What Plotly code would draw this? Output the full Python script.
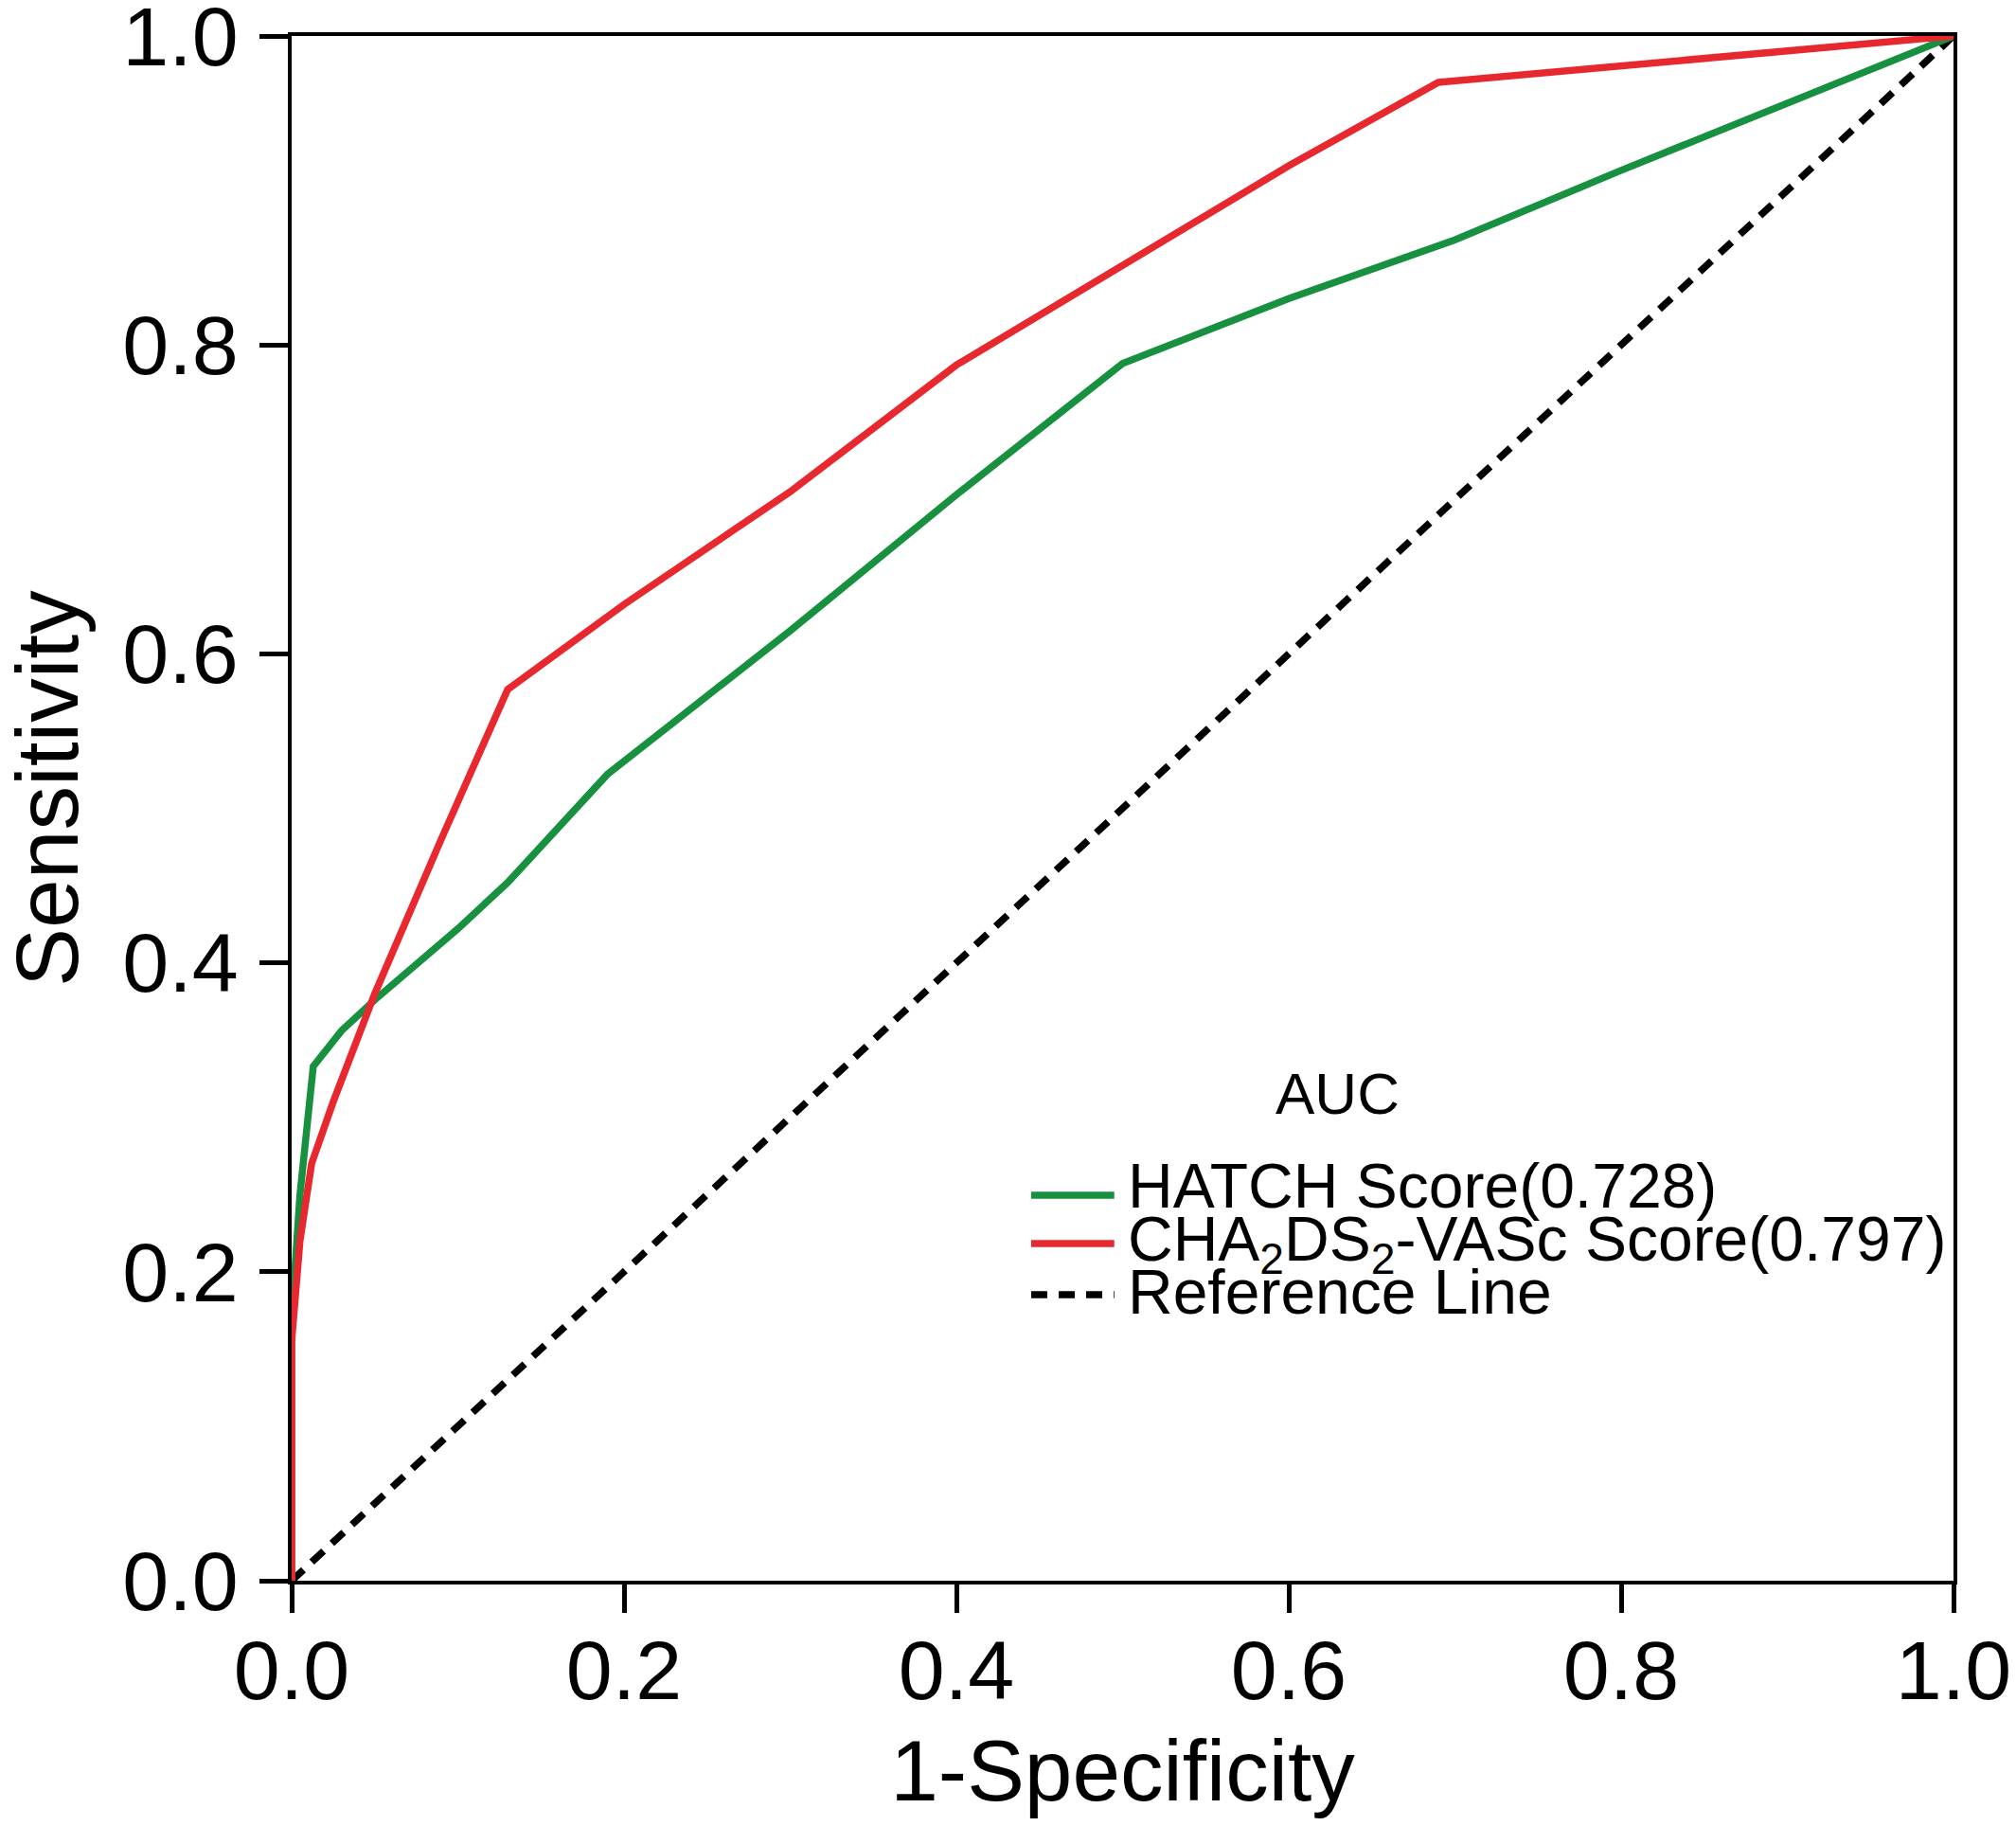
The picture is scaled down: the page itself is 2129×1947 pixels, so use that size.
import plotly.graph_objects as go

# ROC points
hatch_fpr = [0.0, 0.0, 0.005, 0.013, 0.03, 0.05, 0.1, 0.13, 0.19, 0.3, 0.4, 0.5, 0.6, 0.7, 0.8, 1.0]
hatch_tpr = [0.0, 0.17, 0.25, 0.333, 0.356, 0.376, 0.422, 0.452, 0.522, 0.615, 0.703, 0.788, 0.83, 0.868, 0.913, 1.0]

cha_fpr = [0.0, 0.0, 0.005, 0.012, 0.025, 0.05, 0.09, 0.13, 0.2, 0.3, 0.4, 0.5, 0.6, 0.69, 1.0]
cha_tpr = [0.0, 0.155, 0.22, 0.27, 0.31, 0.38, 0.48, 0.577, 0.632, 0.705, 0.787, 0.852, 0.916, 0.97, 1.0]

ref_x = [0.0, 1.0]
ref_y = [0.0, 1.0]

tick_vals = [0.0, 0.2, 0.4, 0.6, 0.8, 1.0]
tick_text = ["0.0", "0.2", "0.4", "0.6", "0.8", "1.0"]

legend_labels = ["HATCH Score(0.728)",
                 "CHA<sub>2</sub>DS<sub>2</sub>-VASc Score(0.797)",
                 "Reference Line"]

GREEN = "#17903f"
RED = "#e8282f"
FONT = "Liberation Sans, Arial, sans-serif"
DASH = "17px,12px"
LW = 7.5

fig = go.Figure()
fig.add_trace(go.Scatter(x=ref_x, y=ref_y, mode="lines", showlegend=False,
                         line=dict(color="black", width=LW, dash=DASH)))
fig.add_trace(go.Scatter(x=hatch_fpr, y=hatch_tpr, mode="lines", showlegend=False,
                         line=dict(color=GREEN, width=LW)))
fig.add_trace(go.Scatter(x=cha_fpr, y=cha_tpr, mode="lines", showlegend=False,
                         line=dict(color=RED, width=LW)))

axis_common = dict(
    range=[0, 1], tickvals=tick_vals, ticktext=tick_text,
    showgrid=False, zeroline=False, automargin=False,
    showline=True, linecolor="black", linewidth=3.5, mirror=True,
    ticks="outside", tickwidth=5, tickcolor="black",
    ticklabeloverflow="allow",
    tickfont=dict(family=FONT, size=88, color="black"),
)
# x: short major ticks bring the labels closer, minor ticks give the full length
fig.update_xaxes(**axis_common, ticklen=16, ticklabelstandoff=0,
                 minor=dict(tickvals=tick_vals, ticks="outside", ticklen=30,
                            tickwidth=5, tickcolor="black", showgrid=False),
                 title=dict(text="1-Specificity", standoff=26,
                            font=dict(family=FONT, size=91, color="black")))
fig.update_yaxes(**axis_common, ticklen=30, ticklabelstandoff=5)

# y title as an annotation so it can sit closer to the page edge
fig.add_annotation(text="Sensitivity", xref="paper", yref="paper",
                   x=-0.147, y=0.5126, xanchor="center", yanchor="middle",
                   textangle=-90, showarrow=False,
                   font=dict(family=FONT, size=93, color="black"))

# hand-made legend (long line samples, "AUC" heading)
sample_y = [0.2495, 0.2183, 0.1852]
text_y = [0.2557, 0.2180, 0.1870]
styles = [dict(color=GREEN, width=LW), dict(color=RED, width=LW),
          dict(color="black", width=LW, dash=DASH)]
for lab, sy, ty, st in zip(legend_labels, sample_y, text_y, styles):
    fig.add_shape(type="line", xref="paper", yref="paper",
                  x0=0.445, x1=0.495, y0=sy, y1=sy, line=st)
    fig.add_annotation(text=lab, xref="paper", yref="paper", x=0.502, y=ty,
                       xanchor="left", yanchor="middle", showarrow=False,
                       font=dict(family=FONT, size=66, color="black"))
fig.add_annotation(text="AUC", xref="paper", yref="paper", x=0.6291, y=0.3155,
                   xanchor="center", yanchor="middle", showarrow=False,
                   font=dict(family=FONT, size=62, color="black"))

# page body keeps its default 8px margin, so the figure is 8px smaller
fig.update_layout(
    width=2121, height=1939,
    margin=dict(l=300, r=66, t=30, b=278),
    paper_bgcolor="white", plot_bgcolor="white",
    showlegend=False,
)

fig.write_html("out.html")
